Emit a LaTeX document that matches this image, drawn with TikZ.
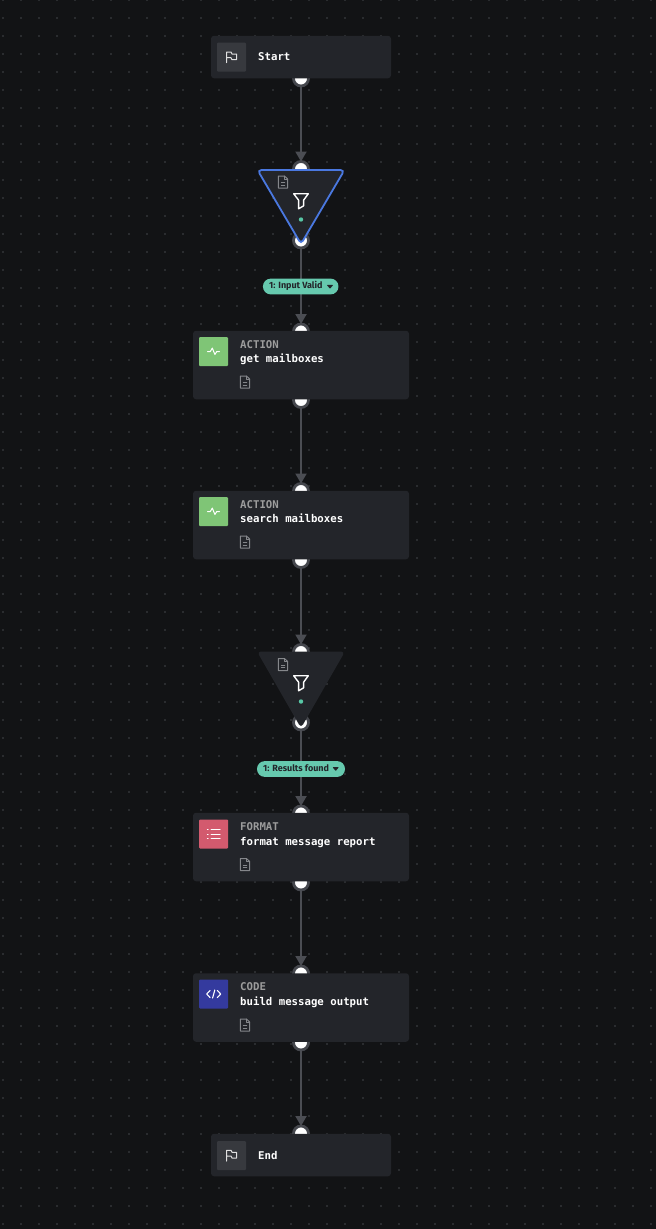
\documentclass[tikz,border=0pt]{standalone}
\usepackage{fontspec}
\setmonofont{DejaVu Sans Mono}
\newfontfamily\pillfont{Fira Sans}
\usetikzlibrary{arrows.meta}
\definecolor{bgc}{HTML}{121315}
\definecolor{dotc}{HTML}{2A2C2F}
\definecolor{boxc}{HTML}{23252A}
\definecolor{sqc}{HTML}{37393E}
\definecolor{ringc}{HTML}{45474D}
\definecolor{wirec}{HTML}{4B4D53}
\definecolor{tealc}{HTML}{66C9AE}
\definecolor{dotg}{HTML}{58C7A6}
\definecolor{bluec}{HTML}{4A78E0}
\definecolor{greenc}{HTML}{7FC576}
\definecolor{redc}{HTML}{D35A6E}
\definecolor{indigoc}{HTML}{343A9E}
\definecolor{docc}{HTML}{85878B}
\definecolor{lblc}{HTML}{9C9C9C}
\tikzset{
  x=1pt,y=-1pt,
  wire/.style={draw=wirec,line width=2pt,-{Triangle[length=10pt,width=11pt]}},
  handle/.style={circle,draw=ringc,fill=white,line width=2.8pt,minimum size=15pt,inner sep=0pt,outer sep=0pt},
  bigbox/.style={fill=boxc,rounded corners=3pt,minimum width=216pt,minimum height=68.5pt,inner sep=0pt},
  endbox/.style={fill=boxc,rounded corners=3pt,minimum width=180pt,minimum height=42.5pt,inner sep=0pt},
  iconsq/.style={rounded corners=1pt,minimum size=29pt,inner sep=0pt},
  kindtxt/.style={anchor=base west,inner sep=0pt,text=lblc,font=\ttfamily\bfseries\fontsize{10.7}{12}\selectfont},
  nametxt/.style={anchor=base west,inner sep=0pt,text=white,font=\ttfamily\bfseries\fontsize{10.7}{12}\selectfont},
  pill/.style={fill=tealc,rounded corners=7.8pt,minimum height=15.8pt,inner sep=0pt},
  pilltxt/.style={anchor=mid west,inner sep=0pt,text=boxc,font=\pillfont\bfseries\fontsize{9}{10}\selectfont},
  tri/.style={fill=boxc,rounded corners=4pt},
  docline/.style={draw=docc,line width=1pt,line join=round,line cap=round},
  iconline/.style={draw=white,line width=1pt,line join=round,line cap=round},
  doc/.pic={
    \draw[docline] (-4.6,-6) -- (1.5,-6) -- (4.6,-3) -- (4.6,6) -- (-4.6,6) -- cycle;
    \draw[docline] (1.5,-6) -- (1.5,-3) -- (4.6,-3);
    \draw[docline,line width=.8pt] (-1.8,0.5) -- (1.8,0.5) (-1.8,3) -- (1.8,3);
  },
  flag/.pic={
    \draw[iconline,draw=white!88!black] (-5,5.5) -- (-5,-5.2) -- (-0.5,-5.2) -- (0.5,-3.2) -- (5,-3.2) -- (5,2.5) -- (0.5,2.5) -- (-0.5,0.5) -- (-5,0.5);
  },
  funnel/.pic={
    \draw[draw=white,line width=1.4pt,line join=round] (-7.3,-7.3) -- (7.3,-7.3) -- (2.6,-0.8) -- (2.6,4.8) -- (-2.4,7.8) -- (-2.4,-0.8) -- cycle;
  },
  pulse/.pic={
    \draw[iconline] (-6,0) -- (-3.2,0) -- (-1.2,-3.4) -- (1.4,3) -- (3.3,0) -- (6,0);
  },
  listicon/.pic={
    \foreach \yy in {-4.5,0,4.5}{
      \draw[iconline] (-6.4,\yy) -- (-5.6,\yy);
      \draw[iconline] (-2.6,\yy) -- (6.4,\yy);
    }
  },
  codeicon/.pic={
    \draw[iconline,line width=1.1pt] (-3.6,-3.6) -- (-7,0) -- (-3.6,3.6);
    \draw[iconline,line width=1.1pt] (3.6,-3.6) -- (7,0) -- (3.6,3.6);
    \draw[iconline,line width=1.1pt] (1.1,-4) -- (-1.1,4);
  },
  caretd/.pic={
    \fill[boxc,rounded corners=.6pt] (-3.2,-1.9) -- (3.2,-1.9) -- (0,2) -- cycle;
  }
}
\begin{document}
\begin{tikzpicture}
\useasboundingbox (0,0) rectangle (656,1229);
\fill[bgc] (0,0) rectangle (656,1229);
% dot grid
\foreach \i in {0,...,36}{
  \foreach \j in {0,...,68}{
    \fill[dotc] ({3+18*\i-.75},{.3+18*\j-.9}) rectangle ({3+18*\i+.75},{.3+18*\j+.9});
  }
}
% handles
\node[handle] (h0) at (301,78.5) {};
\node[handle] (h1) at (301,169) {};
\node[handle] (h2) at (301,240.5) {};
\node[handle] (h3) at (301,331.5) {};
\node[handle] (h4) at (301,400) {};
\node[handle] (h5) at (301,491) {};
\node[handle] (h6) at (301,560) {};
\node[handle] (h7) at (301,652) {};
\node[handle] (h8) at (301,722.5) {};
\node[handle] (h9) at (301,813.5) {};
\node[handle] (h10) at (301,882.5) {};
\node[handle] (h11) at (301,973.5) {};
\node[handle] (h12) at (301,1042.5) {};
\node[handle] (h13) at (301,1133.5) {};
% connectors
\draw[wire] (h0) -- (h1);
\draw[wire] (h2) -- (h3);
\draw[wire] (h4) -- (h5);
\draw[wire] (h6) -- (h7);
\draw[wire] (h8) -- (h9);
\draw[wire] (h10) -- (h11);
\draw[wire] (h12) -- (h13);
% Start
\node[endbox] (start) at (301,57) {};
\node[iconsq,fill=sqc] (starticon) at (231.5,57.2) {};
\pic at (starticon) {flag};
\node[nametxt] (starttxt) at (258,60.8) {Start};
% filter 1
\path[tri,draw=bluec,line width=1.8pt] (257.5,170) -- (344.5,170) -- (301,244) -- cycle;
\pic at (283,182) {doc};
\pic at (301,201) {funnel};
\node[circle,fill=dotg,minimum size=4.4pt,inner sep=0pt] (fd1) at (301,219.5) {};
% pill 1
\node[pill,minimum width=75.5pt] (p1) at (300.7,286.5) {};
\node[pilltxt] (p1t) at (269,286.6) {1: Input Valid};
\pic at (330,286.8) {caretd};
% get mailboxes
\node[bigbox] (n1) at (301,365) {};
\node[iconsq,fill=greenc] (n1i) at (213.5,351.5) {};
\pic at (n1i) {pulse};
\node[kindtxt] (n1k) at (240,348) {ACTION};
\node[nametxt] (n1n) at (240,362) {get mailboxes};
\pic at (245,382) {doc};
% search mailboxes
\node[bigbox] (n2) at (301,525) {};
\node[iconsq,fill=greenc] (n2i) at (213.5,511.5) {};
\pic at (n2i) {pulse};
\node[kindtxt] (n2k) at (240,508) {ACTION};
\node[nametxt] (n2n) at (240,522) {search mailboxes};
\pic at (245,542) {doc};
% filter 2
\path[tri] (257,651.5) -- (345,651.5) -- (301,728) -- cycle;
\pic at (283,664.5) {doc};
\pic at (301,683) {funnel};
\node[circle,fill=dotg,minimum size=4.4pt,inner sep=0pt] (fd2) at (301,701.5) {};
% pill 2
\node[pill,minimum width=88pt] (p2) at (301,769) {};
\node[pilltxt] (p2t) at (263,769.1) {1: Results found};
\pic at (335.7,769) {caretd};
% format
\node[bigbox] (n3) at (301,847) {};
\node[iconsq,fill=redc] (n3i) at (213.7,834) {};
\pic at (n3i) {listicon};
\node[kindtxt] (n3k) at (240,830) {FORMAT};
\node[nametxt] (n3n) at (240,845) {format message report};
\pic at (245,864.5) {doc};
% code
\node[bigbox] (n4) at (301,1007.5) {};
\node[iconsq,fill=indigoc] (n4i) at (213.7,994) {};
\pic at (n4i) {codeicon};
\node[kindtxt] (n4k) at (240,990) {CODE};
\node[nametxt] (n4n) at (240,1005) {build message output};
\pic at (245,1025) {doc};
% End
\node[endbox] (endn) at (301,1155) {};
\node[iconsq,fill=sqc] (endicon) at (231.5,1155.5) {};
\pic at (endicon) {flag};
\node[nametxt] (endtxt) at (258,1159) {End};
\end{tikzpicture}
\end{document}
